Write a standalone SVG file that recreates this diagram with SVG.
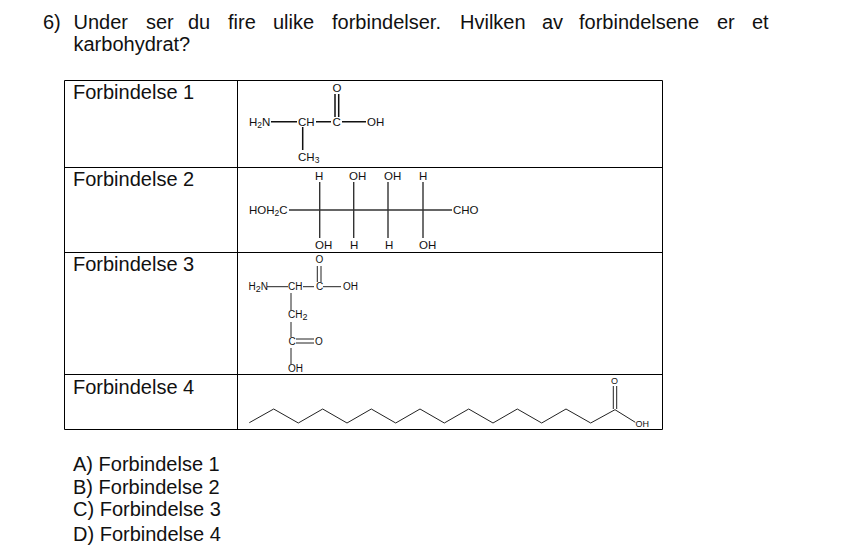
<svg xmlns="http://www.w3.org/2000/svg" width="854" height="556" viewBox="0 0 854 556">
<style>
text{font-family:"Liberation Sans",Arial,sans-serif;fill:#111}
.t{font-size:20px}
.c{font-size:11.5px}
.s{font-size:10px}
.b{font-size:8.500px}
.g{font-size:9px}
.l{stroke:#000;stroke-width:1;fill:none}
.m1{stroke:#111;stroke-width:1.5;fill:none}
.m2{stroke:#333;stroke-width:1.4;fill:none}
.m3{stroke:#222;stroke-width:1;fill:none}
</style>
<rect width="854" height="556" fill="#fff"/>
<g id="question" class="t">
<text x="43" y="29">6)</text><text x="73.500" y="29">Under</text><text x="146" y="29">ser</text><text x="188" y="29">du</text><text x="228" y="29">fire</text><text x="273" y="29">ulike</text><text x="332" y="29">forbindelser.</text><text x="460" y="29">Hvilken</text><text x="542" y="29">av</text><text x="579" y="29">forbindelsene</text><text x="717" y="29">er</text><text x="752" y="29">et</text>
<text x="73.500" y="51">karbohydrat?</text>
</g>
<g id="table" class="l">
<path d="M64.5 80.5H662.5V429.5H64.5ZM237.5 80.5V429.5M64.5 167.5H662.5M64.5 252.5H662.5M64.5 374.5H662.5"/>
</g>
<g id="forbindelse-1">
<text class="t" x="73" y="99">Forbindelse 1</text>
<path class="m1" d="M271 121.700H297M316 121.700H331M342 121.700H366M335 94V117M338.700 94V117M302.700 127V150"/>
<g class="c"><text x="249" y="126">H<tspan class="b" dy="2">2</tspan><tspan dy="-2">N</tspan></text><text x="298" y="126">CH</text><text x="332.500" y="126">C</text><text x="367" y="126">OH</text><text x="332.500" y="92">O</text><text x="298" y="161">CH<tspan class="b" dy="2">3</tspan></text></g>
</g>
<g id="forbindelse-2">
<text class="t" x="73" y="186">Forbindelse 2</text>
<path class="m2" d="M289 210H452M319.700 182V238M353.700 182V238M388 182V238M423 182V238"/>
<g class="c"><text x="249" y="214">HOH<tspan class="b" dy="2">2</tspan><tspan dy="-2">C</tspan></text><text x="453" y="214">CHO</text><text x="315" y="180">H</text><text x="349" y="180">OH</text><text x="384" y="180">OH</text><text x="419" y="180">H</text><text x="315" y="249">OH</text><text x="350" y="249">H</text><text x="385" y="249">H</text><text x="419" y="249">OH</text></g>
</g>
<g id="forbindelse-3">
<text class="t" x="73" y="271">Forbindelse 3</text>
<path class="m3" d="M267 286.700H288M303 286.700H314M323 286.700H341M317.300 266V282M321 266V282M291 293V310M291 322V337M296 339H314M296 343H314M291 348V364"/>
<g class="s"><text x="248.500" y="290">H<tspan class="g" dy="2">2</tspan><tspan dy="-2">N</tspan></text><text x="288" y="290">CH</text><text x="316" y="290">C</text><text x="343" y="290">OH</text><text x="315.500" y="263">O</text><text x="288" y="318">CH<tspan class="g" dy="2">2</tspan></text><text x="288.500" y="345">C</text><text x="315" y="345">O</text><text x="288" y="372">OH</text></g>
</g>
<g id="forbindelse-4">
<text class="t" x="73" y="394">Forbindelse 4</text>
<path class="m3" d="M249.300 422.700L273.700 409L298.300 423L322.700 409L347 423L371.300 409L395.700 423L420 409L444.300 423L468.700 409L493 423L517.300 409L541.700 423L566 409L590.700 423L615 409.700L635.300 422.300M613.300 386V409M616.700 386V409"/>
<g class="g"><text x="611" y="384">O</text><text x="635.500" y="427">OH</text></g>
</g>
<g id="answers" class="t">
<text x="73" y="471">A) Forbindelse 1</text>
<text x="73" y="494">B) Forbindelse 2</text>
<text x="73" y="516">C) Forbindelse 3</text>
<text x="73" y="541">D) Forbindelse 4</text>
</g>
</svg>
